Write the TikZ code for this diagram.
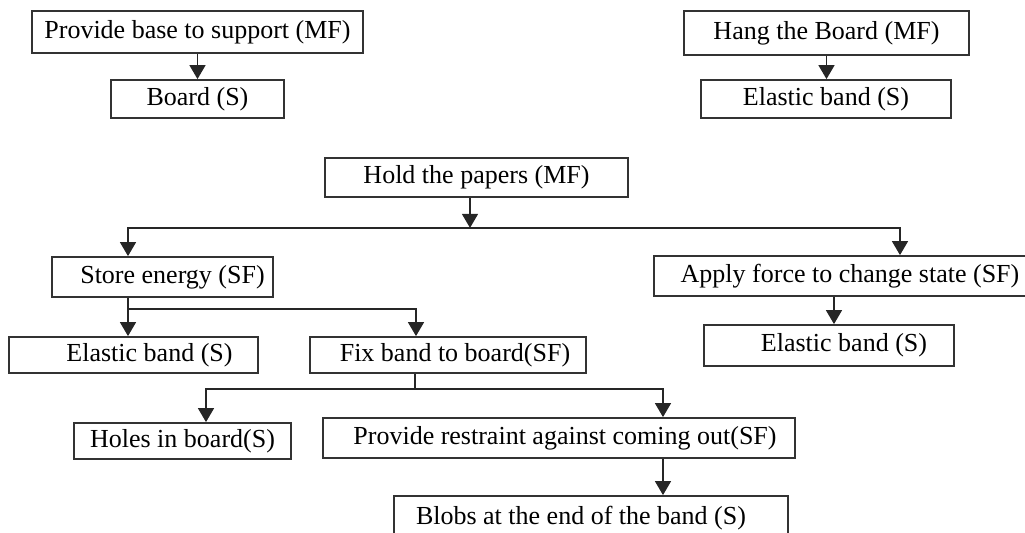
\documentclass[tikz,border=0pt]{standalone}
\usepackage{fontspec}
\setmainfont{Liberation Serif}
\usetikzlibrary{arrows.meta}

\begin{document}
\begin{tikzpicture}[x=0.5pt, y=-0.5pt,
    box/.style={draw=black!80, line width=0.9pt, inner sep=0pt, font=\fontsize{13}{15}\selectfont},
    link/.style={draw=black!85, line width=0.7pt},
    >={Triangle[length=7pt, width=8pt]}]
  \useasboundingbox (0,0) rectangle (1025,532);
  \node[box, minimum width=165.5pt, minimum height=21pt] (Base-MF) at (197.5,32) {Provide base to support (MF)};  % Main functions
  \node[box, minimum width=86.5pt, minimum height=19pt] (Board-S) at (197.5,99) {Board (S)};
  \node[box, minimum width=142.5pt, minimum height=22pt] (Hang-MF) at (826.5,33) {Hang the Board (MF)};
  \node[box, minimum width=125pt, minimum height=19pt] (Band-S-1) at (826,99) {Elastic band (S)};
  \node[box, minimum width=151.5pt, minimum height=19.5pt] (Hold-MF) at (476.5,177.5) {Hold the papers (MF)};
  \node[box, minimum width=110.5pt, minimum height=20pt] (Store-SF) at (162.5,277) {\hspace*{10pt}Store energy (SF)};  % Sub functions
  \node[box, minimum width=187pt, minimum height=20pt] (Apply-SF) at (841,276) {\hspace*{9pt}Apply force to change state (SF)};
  \node[box, minimum width=124.5pt, minimum height=18pt] (Band-S-2) at (133.5,355) {\hspace*{16pt}Elastic band (S)};
  \node[box, minimum width=138pt, minimum height=18pt] (Fix-SF) at (448,355) {\hspace*{7pt}Fix band to board(SF)};
  \node[box, minimum width=125pt, minimum height=20.5pt] (Band-S-3) at (829,345.5) {\hspace*{15pt}Elastic band (S)};
  \node[box, minimum width=108.5pt, minimum height=18pt] (Holes-S) at (182.5,441) {Holes in board(S)};
  \node[box, minimum width=236pt, minimum height=20pt] (Restraint-SF) at (559,438) {\hspace*{6pt}Provide restraint against coming out(SF)};
  \node[box, minimum width=197pt, minimum height=22pt] (Blobs-S) at (591,518) {Blobs at the end of the band (S)\hspace*{10pt}};
  \draw[link, ->] (Base-MF) -- (Board-S);  % Top pairs
  \draw[link, ->] (Hang-MF.south) -- (Hang-MF.south |- Band-S-1.north);
  \draw[link, ->] ([xshift=-3.25pt]Hold-MF.south) -- ++(0,-15pt) coordinate (Hold-split);  % Hold the papers
  \draw[link, ->] (Hold-split) -| ([xshift=-17.25pt]Store-SF.north);
  \draw[link, ->] (Hold-split) -| ([xshift=29.5pt]Apply-SF.north);
  \draw[link] ([xshift=-17.25pt]Store-SF.south) -- ++(0,-5.5pt) coordinate (Store-split);  % Store energy
  \draw[link, ->] (Store-split) -- (Store-split |- Band-S-2.north);
  \draw[link, ->] (Store-split) -| ([xshift=-16pt]Fix-SF.north);
  \draw[link, ->] ([xshift=-3.5pt]Apply-SF.south) -- ([xshift=-3.5pt]Apply-SF.south |- Band-S-3.north);
  \draw[link] ([xshift=-16.5pt]Fix-SF.south) -- ++(0,-7.5pt) coordinate (Fix-split);  % Fix band to board
  \draw[link, ->] (Fix-split) -| ([xshift=11.75pt]Holes-S.north);
  \draw[link, ->] (Fix-split) -| ([xshift=52pt]Restraint-SF.north);
  \draw[link, ->] ([xshift=52pt]Restraint-SF.south) -- ([xshift=52pt]Restraint-SF.south |- Blobs-S.north);
\end{tikzpicture}
\end{document}
